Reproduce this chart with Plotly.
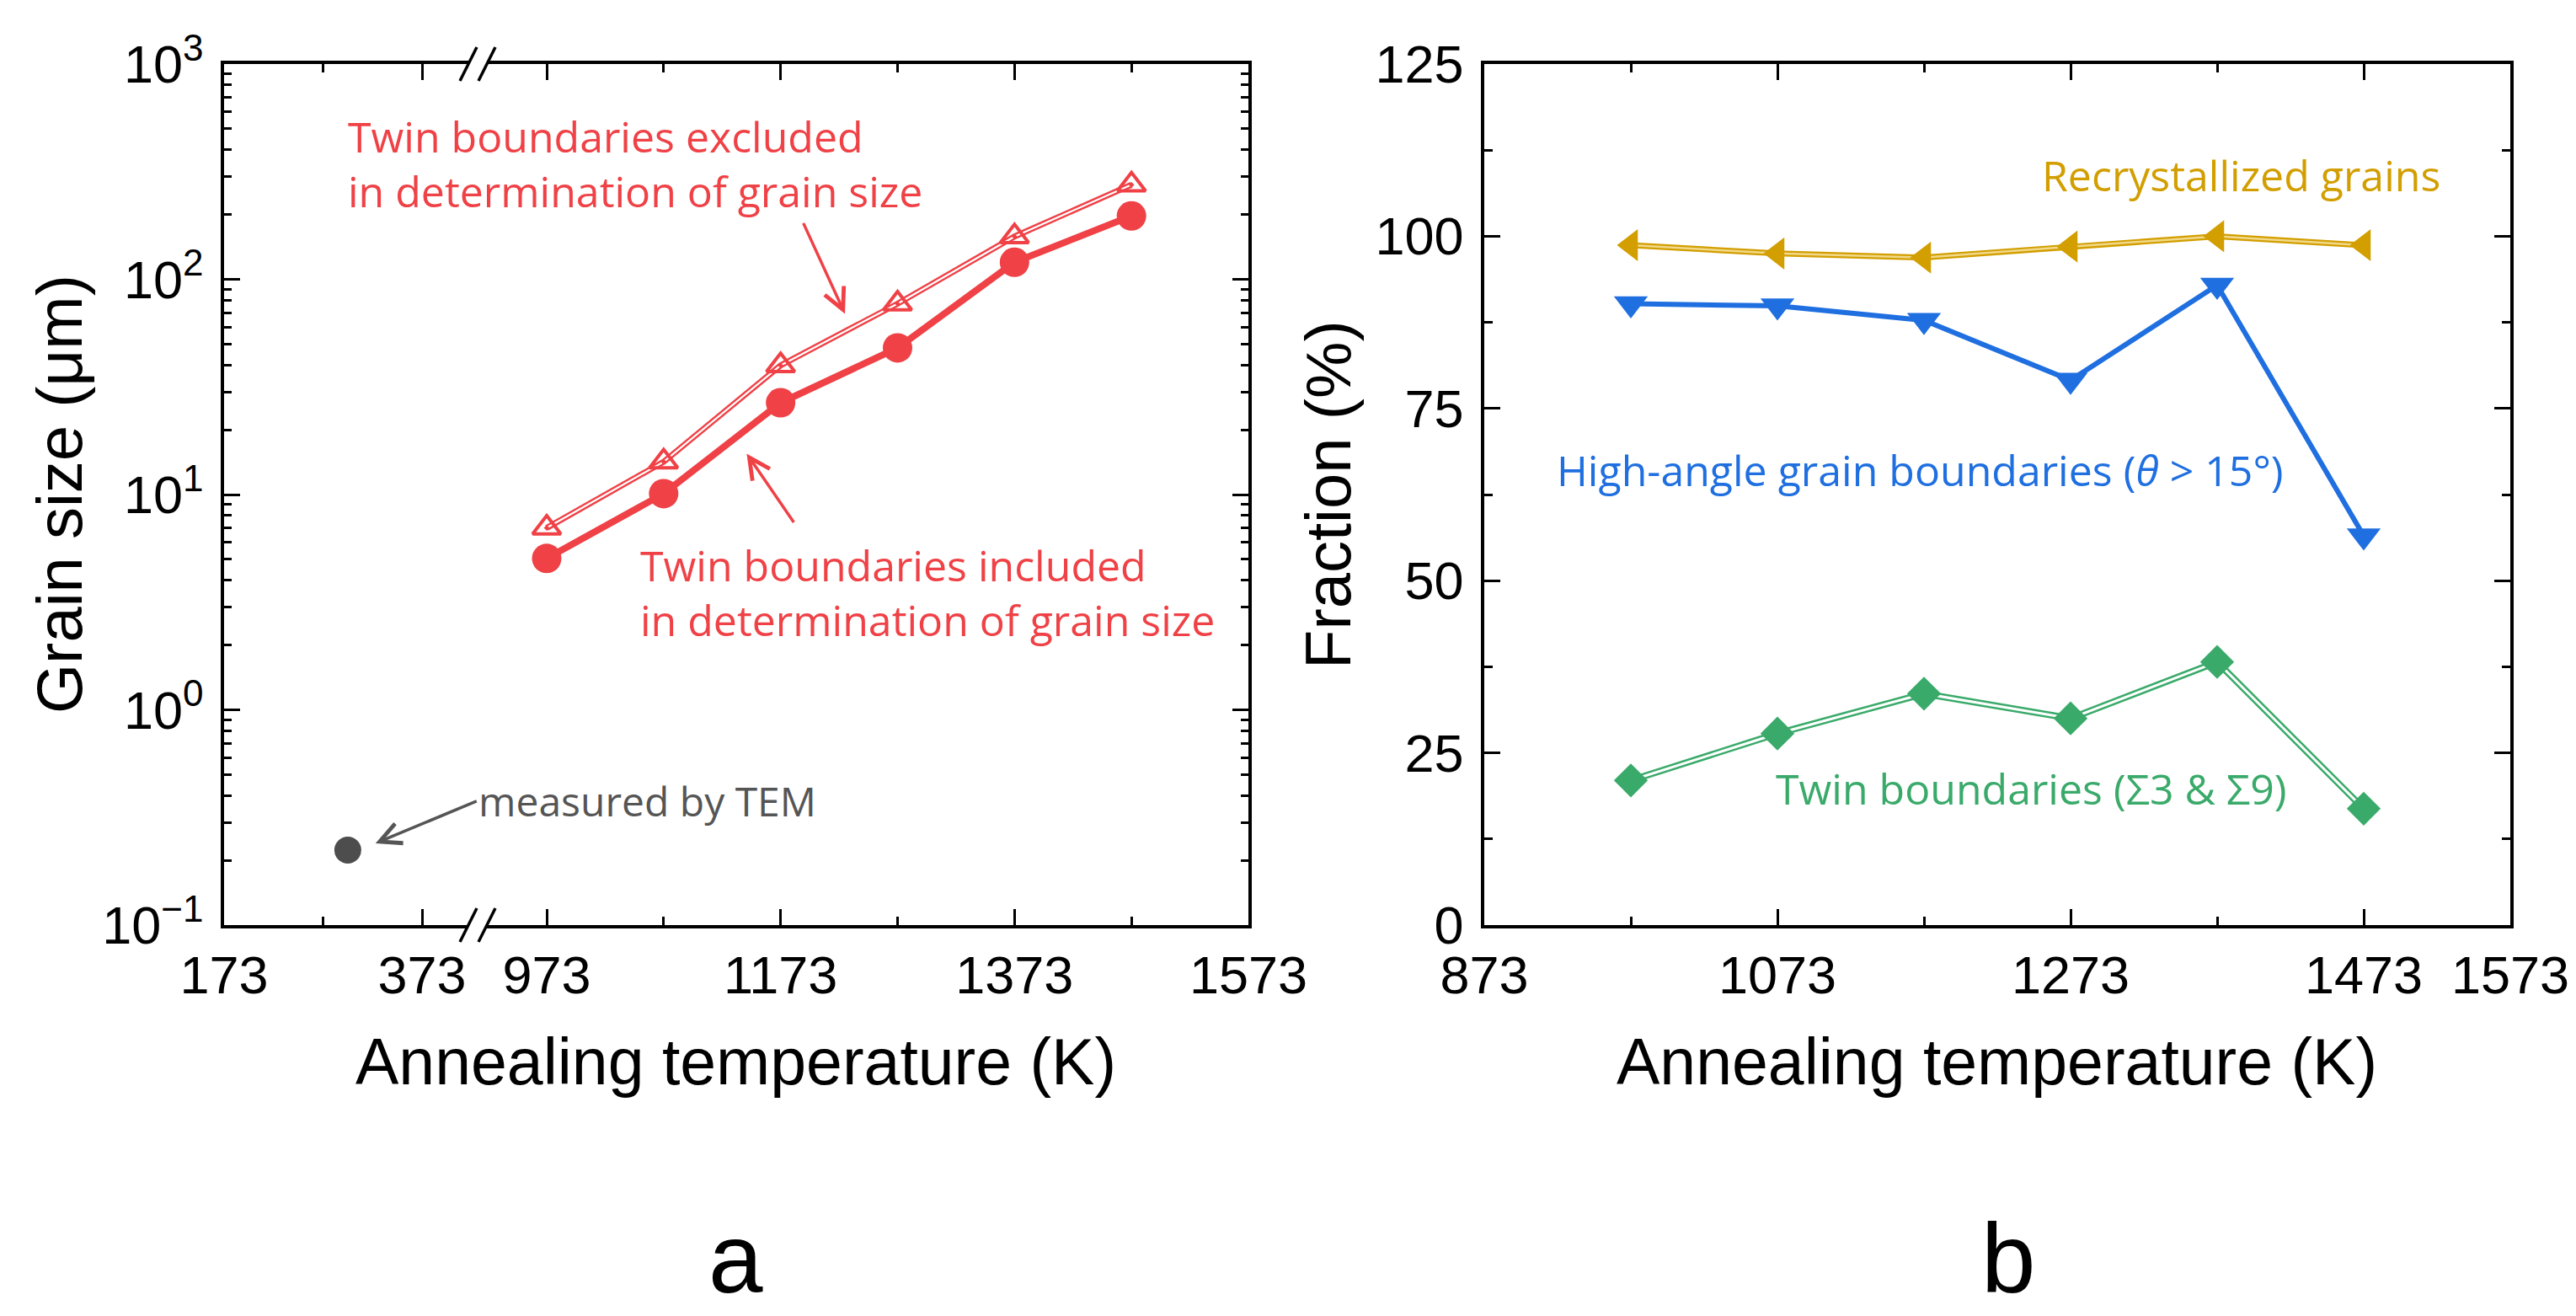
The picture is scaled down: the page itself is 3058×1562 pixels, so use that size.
import plotly.graph_objects as go

# ---------------- data ----------------
temps = [973, 1073, 1173, 1273, 1373, 1473]
gs_excluded = [7.0, 14.2, 39.8, 77.0, 158.0, 275.0]
gs_included = [5.05, 10.1, 26.7, 48.0, 120.0, 197.0]
tem_temp = [298]
tem_size = [0.223]

recryst = [98.7, 97.5, 96.9, 98.5, 100.0, 98.7]
hagb = [90.2, 89.9, 87.8, 79.1, 92.9, 56.5]
twins = [21.0, 27.8, 33.6, 30.0, 38.2, 16.9]

left_x_ticks_a = [173, 373]
left_x_minor_a = [273]
left_x_ticks_b = [973, 1173, 1373, 1573]
left_x_minor_b = [1073, 1273, 1473]
left_y_ticks = [0.1, 1, 10, 100, 1000]
left_y_text = ["10<sup>\u22121</sup>", "10<sup>0</sup>", "10<sup>1</sup>", "10<sup>2</sup>", "10<sup>3</sup>"]
right_x_ticks = [873, 1073, 1273, 1473, 1573]
right_x_minor = [973, 1173, 1373]
right_y_ticks = [0, 25, 50, 75, 100, 125]

# ---------------- style ----------------
W, H = 3058, 1562
RED = "#EF4146"
GOLD = "#D29E00"
GOLD_IN = "#F2D98A"
BLUE = "#1F6FE0"
GREEN = "#3AAA6A"
GRAY = "#4D4D4D"
FONT = "Liberation Sans, Arial, sans-serif"
AFONT = "Open Sans, Noto Sans, sans-serif"
TICKF = dict(family=FONT, size=63, color="black")
ANNF = 50


def fx(p):
    return p / W


def fy(p):
    return 1 - p / H


minor_log = [m * 10 ** k for k in range(-1, 3) for m in range(2, 10)]

fig = go.Figure()

# ---- panel a ----
fig.add_trace(go.Scatter(x=tem_temp, y=tem_size, xaxis="x", yaxis="y", mode="markers",
                         marker=dict(symbol="circle", size=32, color=GRAY, line=dict(width=0)),
                         showlegend=False, hoverinfo="skip"))
fig.add_trace(go.Scatter(x=temps, y=gs_excluded, xaxis="x2", yaxis="y2", mode="lines",
                         line=dict(color=RED, width=7), showlegend=False, hoverinfo="skip"))
fig.add_trace(go.Scatter(x=temps, y=gs_excluded, xaxis="x2", yaxis="y2", mode="lines",
                         line=dict(color="white", width=2.2), showlegend=False, hoverinfo="skip"))
fig.add_trace(go.Scatter(x=temps, y=gs_excluded, xaxis="x2", yaxis="y2", mode="markers",
                         marker=dict(symbol="triangle-up-open-dot", size=29, color=RED,
                                     line=dict(width=4, color=RED)),
                         showlegend=False, hoverinfo="skip"))
fig.add_trace(go.Scatter(x=temps, y=gs_included, xaxis="x2", yaxis="y2", mode="lines+markers",
                         line=dict(color=RED, width=8),
                         marker=dict(symbol="circle", size=35, color=RED, line=dict(width=0)),
                         showlegend=False, hoverinfo="skip"))

# ---- panel b ----
fig.add_trace(go.Scatter(x=temps, y=recryst, xaxis="x3", yaxis="y3", mode="lines",
                         line=dict(color=GOLD, width=7), showlegend=False, hoverinfo="skip"))
fig.add_trace(go.Scatter(x=temps, y=recryst, xaxis="x3", yaxis="y3", mode="lines",
                         line=dict(color=GOLD_IN, width=2.5), showlegend=False, hoverinfo="skip"))
fig.add_trace(go.Scatter(x=temps, y=recryst, xaxis="x3", yaxis="y3", mode="markers",
                         marker=dict(symbol="triangle-left", size=33, color=GOLD, line=dict(width=0)),
                         showlegend=False, hoverinfo="skip"))
fig.add_trace(go.Scatter(x=temps, y=hagb, xaxis="x3", yaxis="y3", mode="lines+markers",
                         line=dict(color=BLUE, width=6),
                         marker=dict(symbol="triangle-down", size=35, color=BLUE, line=dict(width=0)),
                         showlegend=False, hoverinfo="skip"))
fig.add_trace(go.Scatter(x=temps, y=twins, xaxis="x3", yaxis="y3", mode="lines",
                         line=dict(color=GREEN, width=8), showlegend=False, hoverinfo="skip"))
fig.add_trace(go.Scatter(x=temps, y=twins, xaxis="x3", yaxis="y3", mode="lines",
                         line=dict(color="white", width=3), showlegend=False, hoverinfo="skip"))
fig.add_trace(go.Scatter(x=temps, y=twins, xaxis="x3", yaxis="y3", mode="markers",
                         marker=dict(symbol="diamond", size=31, color=GREEN, line=dict(width=0)),
                         showlegend=False, hoverinfo="skip"))

LW = 3.5
common_x = dict(showline=True, linecolor="black", linewidth=LW, mirror="ticks",
                ticks="inside", ticklen=19, tickwidth=3, tickcolor="black",
                showgrid=False, zeroline=False, tickfont=TICKF, ticklabelstandoff=2,
                fixedrange=True, automargin=False)
common_y = dict(showline=True, linecolor="black", linewidth=LW,
                ticks="inside", ticklen=19, tickwidth=3, tickcolor="black",
                showgrid=False, zeroline=False, tickfont=TICKF, ticklabelstandoff=8,
                fixedrange=True, automargin=False)

TOP, BOT = 68, 1090
ydom = [fy(BOT), fy(TOP)]
A_L, A_R = 258, 1474
left_a_end = 548
right_b_start = 570
B_L, B_R = 1754, 2972
PX_A = (493 - 258) / 200.0        # px per K, left part of panel a
PX_B = (A_R - 641) / 600.0        # px per K, right part of panel a

fig.update_layout(
    width=W, height=H,
    margin=dict(l=0, r=0, t=0, b=0, autoexpand=False),
    paper_bgcolor="white", plot_bgcolor="rgba(0,0,0,0)",
    font=dict(family=FONT, color="black"),
    xaxis=dict(common_x, domain=[fx(A_L), fx(left_a_end)], anchor="y",
               range=[173, 173 + (left_a_end - A_L) / PX_A],
               tickmode="array", tickvals=left_x_ticks_a, ticktext=[str(v) for v in left_x_ticks_a],
               minor=dict(tickmode="array", tickvals=left_x_minor_a, ticks="inside",
                          ticklen=10, tickwidth=3, tickcolor="black", showgrid=False)),
    xaxis2=dict(common_x, domain=[fx(right_b_start), fx(A_R)], anchor="y2",
                range=[1573 - (A_R - right_b_start) / PX_B, 1573],
                tickmode="array", tickvals=left_x_ticks_b, ticktext=[str(v) for v in left_x_ticks_b],
                minor=dict(tickmode="array", tickvals=left_x_minor_b, ticks="inside",
                           ticklen=10, tickwidth=3, tickcolor="black", showgrid=False)),
    yaxis=dict(common_y, domain=ydom, anchor="x", type="log", range=[-1, 3],
               tickmode="array", tickvals=left_y_ticks, ticktext=left_y_text,
               minor=dict(tickmode="array", tickvals=minor_log, ticks="inside",
                          ticklen=9, tickwidth=3, tickcolor="black", showgrid=False)),
    yaxis2=dict(common_y, domain=ydom, anchor="x2", side="right", type="log", range=[-1, 3],
                matches="y", showticklabels=False,
                tickmode="array", tickvals=left_y_ticks,
                minor=dict(tickmode="array", tickvals=minor_log, ticks="inside",
                           ticklen=9, tickwidth=3, tickcolor="black", showgrid=False)),
    xaxis3=dict(common_x, domain=[fx(B_L), fx(B_R)], anchor="y3", range=[873, 1573],
                tickmode="array", tickvals=right_x_ticks, ticktext=[str(v) for v in right_x_ticks],
                minor=dict(tickmode="array", tickvals=right_x_minor, ticks="inside",
                           ticklen=10, tickwidth=3, tickcolor="black", showgrid=False)),
    yaxis3=dict(common_y, domain=ydom, anchor="x3", range=[0, 125], mirror="ticks",
                tickmode="array", tickvals=right_y_ticks, ticktext=[str(v) for v in right_y_ticks],
                minor=dict(dtick=12.5, ticks="inside", ticklen=10, tickwidth=3,
                           tickcolor="black", showgrid=False)),
)

# axis break marks
shapes = []
for yc in (BOT, TOP):
    for xc in (left_a_end, right_b_start):
        shapes.append(dict(type="line", xref="paper", yref="paper",
                           x0=fx(xc - 10), y0=fy(yc + 20), x1=fx(xc + 10), y1=fy(yc - 20),
                           line=dict(color="black", width=LW)))
fig.update_layout(shapes=shapes)

ann = []


def text(x, y, s, size, color, family=AFONT, xanchor="left", angle=0):
    ann.append(dict(xref="paper", yref="paper", x=fx(x), y=fy(y), text=s, showarrow=False,
                    xanchor=xanchor, yanchor="middle", textangle=angle, align="left",
                    font=dict(family=family, size=size, color=color)))


# panel a texts
text(403, 186, "Twin boundaries excluded<br>in determination of grain size", ANNF, RED)
text(750, 695, "Twin boundaries included<br>in determination of grain size", ANNF, RED)
# panel b texts
text(2414, 200, "Recrystallized grains", ANNF, GOLD)
text(1838, 550, "High-angle grain boundaries (<i>\u03b8</i> > 15\u00b0)", ANNF, BLUE)
text(2098, 928, "Twin boundaries (\u03a33 & \u03a39)", ANNF, GREEN)

# axis titles
text(866, 1252, "Annealing temperature (K)", 77, "black", family=FONT, xanchor="center")
text(2362, 1252, "Annealing temperature (K)", 77, "black", family=FONT, xanchor="center")
text(62, 579, "Grain size (\u03bcm)", 76, "black", family=FONT, xanchor="center", angle=-90)
text(1568, 579, "Fraction (%)", 76, "black", family=FONT, xanchor="center", angle=-90)
# panel labels
text(866, 1486, "a", 116, "black", family=FONT, xanchor="center")
text(2376, 1486, "b", 116, "black", family=FONT, xanchor="center")

# TEM label with its arrow (head in data coordinates, text offset in pixels)
ann.append(dict(xref="x", yref="y", x=326, y=-0.62, axref="pixel", ayref="pixel",
                ax=120, ay=-50, text="measured by TEM", showarrow=True, arrowhead=5,
                arrowsize=1.4, arrowwidth=3.5, arrowcolor="#555555",
                xanchor="left", yanchor="middle",
                font=dict(family=AFONT, size=48, color="#555555")))
# red arrows (head in data coordinates, tail offset in pixels)
ann.append(dict(xref="x2", yref="y2", x=1228, y=1.84, axref="pixel", ayref="pixel",
                ax=-50, ay=-109, text="", showarrow=True, arrowhead=5, arrowsize=1.4,
                arrowwidth=3.5, arrowcolor=RED))
ann.append(dict(xref="x2", yref="y2", x=1144, y=1.19, axref="pixel", ayref="pixel",
                ax=57, ay=83, text="", showarrow=True, arrowhead=5, arrowsize=1.4,
                arrowwidth=3.5, arrowcolor=RED))
fig.update_layout(annotations=ann)

fig.write_html("out.html")
